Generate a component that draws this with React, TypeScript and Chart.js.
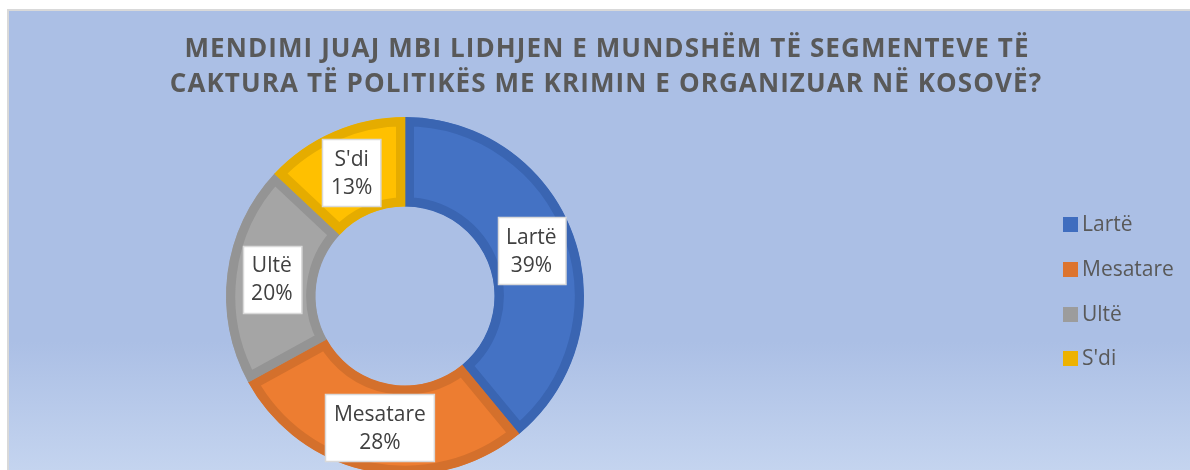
import React, { useEffect, useRef } from "react";
import { Chart, registerables } from "chart.js";

Chart.register(...registerables);

const categories = ["Lartë", "Mesatare", "Ultë", "S'di"];
const values = [39, 28, 20, 13];
const percentLabels = ["39%", "28%", "20%", "13%"];
const titleLines = [
  "MENDIMI JUAJ MBI LIDHJEN E MUNDSHËM TË SEGMENTEVE TË",
  "CAKTURA TË POLITIKËS ME KRIMIN E ORGANIZUAR NË KOSOVË?",
];
const fillColors = ["#4472C4", "#ED7D31", "#A5A5A5", "#FFC000"];
const borderColors = ["#3A65B2", "#D4702C", "#949494", "#E5AC00"];
const legendColors = ["#3F6DBF", "#DD742E", "#9C9C9C", "#EDB200"];

const CANVAS_W = 1181;
const CANVAS_H = 520;

const titlePlugin = {
  id: "customTitle",
  afterDraw(chart: any) {
    const ctx = chart.ctx;
    ctx.save();
    ctx.fillStyle = "#595959";
    ctx.font = 'bold 26px "Open Sans"';
    (ctx as any).letterSpacing = "1.1px";
    ctx.textAlign = "center";
    ctx.textBaseline = "alphabetic";
    ctx.fillText(titleLines[0], 598, 46);
    ctx.fillText(titleLines[1], 597, 81);
    ctx.restore();
  },
};

const legendPlugin = {
  id: "customLegend",
  afterDraw(chart: any) {
    const ctx = chart.ctx;
    ctx.save();
    const ys = [213, 258, 303, 347];
    categories.forEach((c, i) => {
      ctx.fillStyle = legendColors[i];
      ctx.fillRect(1054, ys[i] - 7, 15, 15);
      ctx.fillStyle = "#595959";
      ctx.font = '21px "Open Sans"';
      ctx.textAlign = "left";
      ctx.textBaseline = "middle";
      ctx.fillText(c, 1073, ys[i] + 1);
    });
    ctx.restore();
  },
};

const labelPlugin = {
  id: "boxLabels",
  afterDatasetsDraw(chart: any) {
    const ctx = chart.ctx;
    const meta = chart.getDatasetMeta(0);
    ctx.save();
    ctx.font = '21px "Open Sans"';
    meta.data.forEach((el: any, i: number) => {
      const p = el.getCenterPoint();
      const l1 = categories[i];
      const l2 = percentLabels[i];
      const w = Math.max(ctx.measureText(l1).width, ctx.measureText(l2).width) + 17;
      const h = 67;
      const x = Math.round(p.x - w / 2) + 0.5;
      const y = Math.round(p.y - h / 2) + 0.5;
      ctx.fillStyle = "#FFFFFF";
      ctx.fillRect(x, y, w, h);
      ctx.strokeStyle = "#D9D9D9";
      ctx.lineWidth = 1.5;
      ctx.strokeRect(x, y, w, h);
      ctx.fillStyle = "#404040";
      ctx.textAlign = "center";
      ctx.textBaseline = "middle";
      ctx.fillText(l1, p.x, p.y - 13);
      ctx.fillText(l2, p.x, p.y + 15);
    });
    ctx.restore();
  },
};

export default function App() {
  const ref = useRef<HTMLCanvasElement | null>(null);
  useEffect(() => {
    if (!ref.current) return;
    const chart = new Chart(ref.current, {
      type: "doughnut",
      data: {
        labels: categories,
        datasets: [
          {
            data: values,
            backgroundColor: fillColors,
            borderColor: borderColors,
            borderWidth: 9,
            borderAlign: "inner",
          } as any,
        ],
      },
      options: {
        responsive: false,
        animation: false,
        cutout: "50%",
        layout: { padding: { left: 217, right: CANVAS_W - 575, top: 106, bottom: CANVAS_H - 464 } },
        plugins: {
          legend: { display: false },
          title: { display: false },
          tooltip: { enabled: false },
        },
        events: [],
      },
      plugins: [titlePlugin, legendPlugin, labelPlugin],
    });
    return () => chart.destroy();
  }, []);
  return (
    <div
      style={{
        position: "absolute",
        left: 7,
        top: 9,
        width: 1183,
        height: 461,
        overflow: "hidden",
        borderLeft: "2px solid #D9D9D9",
        borderTop: "2px solid #D9D9D9",
        background: "linear-gradient(180deg, #ABBFE5 0%, #ABBFE5 72%, #C4D4EF 100%)",
        boxSizing: "border-box",
      }}
    >
      <canvas ref={ref} width={CANVAS_W} height={CANVAS_H} style={{ display: "block" }} />
    </div>
  );
}
